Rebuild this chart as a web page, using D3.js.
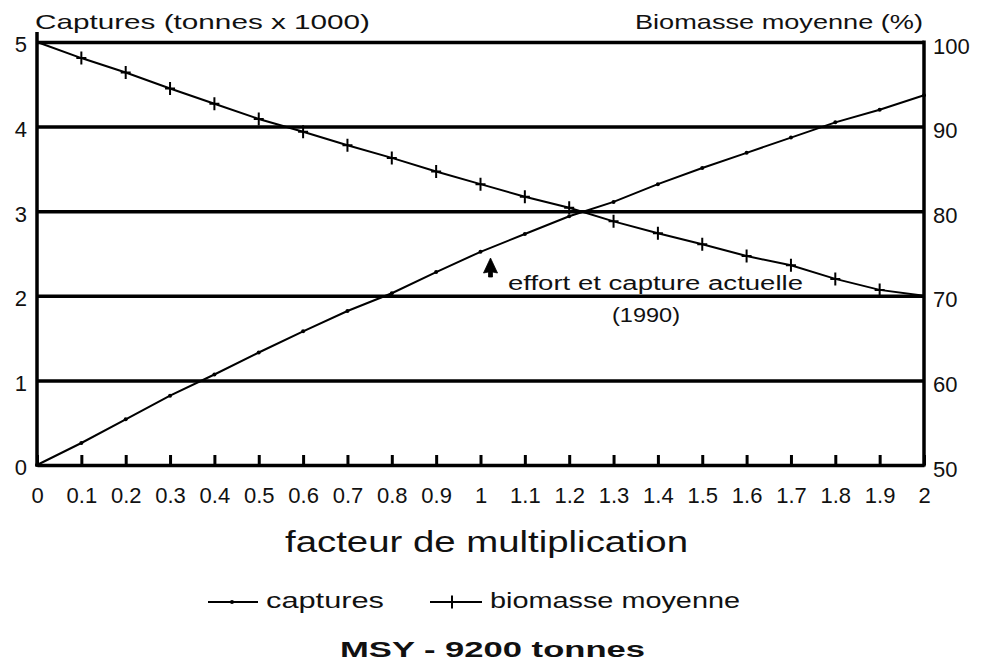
<!DOCTYPE html>
<html>
<head>
<meta charset="utf-8">
<script src="https://cdn.jsdelivr.net/npm/d3@7"></script>
<style>
  html, body { margin: 0; padding: 0; background: #fff; }
  svg { display: block; }
  text { font-family: "Liberation Sans", Arial, sans-serif; fill: #111; }
</style>
</head>
<body>
<svg id="chart" width="985" height="661"></svg>
<script>
// Multiplication factor applied to fishing effort
const factor = [0, 0.1, 0.2, 0.3, 0.4, 0.5, 0.6, 0.7, 0.8, 0.9, 1.0,
                1.1, 1.2, 1.3, 1.4, 1.5, 1.6, 1.7, 1.8, 1.9, 2.0];
// Catches (tonnes x 1000)
const captures = [0, 0.26, 0.54, 0.82, 1.07, 1.33, 1.58, 1.82, 2.03, 2.28, 2.52,
                  2.73, 2.94, 3.11, 3.32, 3.51, 3.69, 3.87, 4.05, 4.20, 4.37];
// Mean biomass (%)
const biomasse = [100, 98.1, 96.4, 94.5, 92.7, 90.9, 89.4, 87.8, 86.3, 84.7, 83.2,
                  81.7, 80.4, 78.8, 77.4, 76.1, 74.7, 73.6, 72.0, 70.7, 70.0];
const leftTicks = [0, 1, 2, 3, 4, 5];
const rightTicks = [50, 60, 70, 80, 90, 100];
const currentFactor = 1.0;

const svg = d3.select("#chart");
const L = 37, R = 924, T = 42, B = 465;

const x = d3.scaleLinear().domain([0, 2]).range([L, R]);
const yL = d3.scaleLinear().domain([0, 5]).range([B, T]);
const yR = d3.scaleLinear().domain([50, 100]).range([B, T]);

// horizontal gridlines
const grid = svg.append("g").attr("transform", `translate(${L},0)`)
  .call(d3.axisLeft(yL).tickValues(leftTicks.slice(1)).tickSize(-(R - L)).tickFormat(""));
grid.select(".domain").remove();
grid.selectAll("line").attr("stroke", "#000").attr("stroke-width", 3.5);

// x axis: inward ticks, labels below
const xAxis = svg.append("g").attr("transform", `translate(0,${B})`)
  .call(d3.axisBottom(x).tickValues(factor).tickSizeInner(-10).tickSizeOuter(0)
        .tickPadding(22).tickFormat(d => String(Math.round(d * 10) / 10)));
xAxis.select(".domain").attr("stroke", "#000").attr("stroke-width", 3.5);
xAxis.selectAll("line").attr("stroke", "#000").attr("stroke-width", 3);
xAxis.selectAll("text").attr("font-size", 22).attr("fill", "#111")
  .attr("font-family", "Liberation Sans, Arial, sans-serif");

// left axis
const yAxisL = svg.append("g").attr("transform", `translate(${L},0)`)
  .call(d3.axisLeft(yL).tickValues(leftTicks).tickSize(0).tickPadding(10).tickFormat(d3.format("d")));
yAxisL.select(".domain").remove();
yAxisL.selectAll("text").attr("font-size", 22).attr("dy", "0.45em").attr("fill", "#111")
  .attr("font-family", "Liberation Sans, Arial, sans-serif");
svg.append("line").attr("x1", L).attr("x2", L).attr("y1", T - 10).attr("y2", B + 1.5)
  .attr("stroke", "#000").attr("stroke-width", 3.5);

// right axis
const yAxisR = svg.append("g").attr("transform", `translate(${R},0)`)
  .call(d3.axisRight(yR).tickValues(rightTicks).tickSize(0).tickPadding(9).tickFormat(d3.format("d")));
yAxisR.select(".domain").remove();
yAxisR.selectAll("text").attr("font-size", 22).attr("dy", "0.5em").attr("fill", "#111")
  .attr("font-family", "Liberation Sans, Arial, sans-serif");
svg.append("line").attr("x1", R).attr("x2", R).attr("y1", T - 1.5).attr("y2", B + 1.5)
  .attr("stroke", "#000").attr("stroke-width", 3.5);

// axis titles
svg.append("text").attr("x", 35).attr("y", 29).attr("font-size", 21)
  .attr("textLength", 335).attr("lengthAdjust", "spacingAndGlyphs")
  .text("Captures (tonnes x 1000)");
svg.append("text").attr("x", 635).attr("y", 29).attr("font-size", 21)
  .attr("textLength", 288).attr("lengthAdjust", "spacingAndGlyphs")
  .text("Biomasse moyenne (%)");
svg.append("text").attr("x", 285).attr("y", 552).attr("font-size", 29)
  .attr("textLength", 403).attr("lengthAdjust", "spacingAndGlyphs")
  .text("facteur de multiplication");

// series
const lineL = d3.line().x((d, i) => x(factor[i])).y(d => yL(d));
const lineR = d3.line().x((d, i) => x(factor[i])).y(d => yR(d));

svg.append("path").datum(captures).attr("d", lineL)
  .attr("fill", "none").attr("stroke", "#000").attr("stroke-width", 2);
svg.append("g").selectAll("circle").data(captures).join("circle")
  .attr("cx", (d, i) => x(factor[i])).attr("cy", d => yL(d)).attr("r", 2).attr("fill", "#000");

svg.append("path").datum(biomasse).attr("d", lineR)
  .attr("fill", "none").attr("stroke", "#000").attr("stroke-width", 2);
const plus = `M-5,0H5M0,-6.5V6.5`;
svg.append("g").selectAll("path").data(biomasse.slice(1, -1)).join("path")
  .attr("transform", (d, i) => `translate(${x(factor[i + 1])},${yR(d)})`)
  .attr("d", plus).attr("stroke", "#000").attr("stroke-width", 2).attr("fill", "none");

// current effort marker
const ax = x(currentFactor) + 10;
svg.append("path")
  .attr("d", `M${ax},258 L${ax + 7},273 L${ax + 2},272 L${ax + 2},277 L${ax - 2},277 L${ax - 2},272 L${ax - 7},273 Z`)
  .attr("fill", "#000").attr("stroke", "#000").attr("stroke-width", 0.8).attr("stroke-linejoin", "round");
svg.append("text").attr("x", 508).attr("y", 290).attr("font-size", 20)
  .attr("textLength", 295).attr("lengthAdjust", "spacingAndGlyphs")
  .text("effort et capture actuelle");
svg.append("text").attr("x", 612).attr("y", 322).attr("font-size", 20)
  .attr("textLength", 68).attr("lengthAdjust", "spacingAndGlyphs")
  .text("(1990)");

// legend
const lg = svg.append("g");
lg.append("line").attr("x1", 208).attr("x2", 258).attr("y1", 602).attr("y2", 602)
  .attr("stroke", "#000").attr("stroke-width", 2);
lg.append("circle").attr("cx", 232).attr("cy", 602).attr("r", 2).attr("fill", "#000");
lg.append("text").attr("x", 266).attr("y", 608).attr("font-size", 22)
  .attr("textLength", 118).attr("lengthAdjust", "spacingAndGlyphs").text("captures");
lg.append("line").attr("x1", 430).attr("x2", 482).attr("y1", 602).attr("y2", 602)
  .attr("stroke", "#000").attr("stroke-width", 2);
lg.append("path").attr("transform", "translate(452,602)").attr("d", plus)
  .attr("stroke", "#000").attr("stroke-width", 2);
lg.append("text").attr("x", 490).attr("y", 608).attr("font-size", 22)
  .attr("textLength", 250).attr("lengthAdjust", "spacingAndGlyphs").text("biomasse moyenne");

svg.append("text").attr("x", 340).attr("y", 657).attr("font-size", 22).attr("font-weight", "bold")
  .attr("textLength", 305).attr("lengthAdjust", "spacingAndGlyphs").text("MSY - 9200 tonnes");
</script>
</body>
</html>
